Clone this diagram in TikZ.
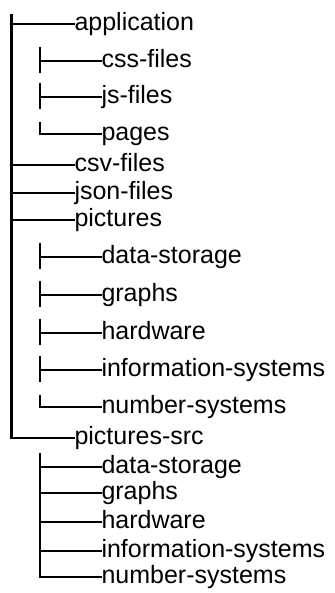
\documentclass[tikz,border=0pt]{standalone}
\usepackage{fontspec}
\setmainfont{Liberation Sans}
\begin{document}
\begin{tikzpicture}[x=1pt,y=-1pt,
  lbl/.style={anchor=west,inner sep=0pt,outer sep=0pt,
    text height=12.6pt,text depth=0pt,
    font=\fontsize{25}{30}\selectfont},
  branch/.style={line width=2pt,line cap=butt},
  trunk/.style={line width=2.8pt,line cap=butt}]
\useasboundingbox[fill=white] (0,0) rectangle (334,593);

% first level
\node[lbl] (app)  at (74.5,24)  {application};
\node[lbl] (csv)  at (74.5,165) {csv-files};
\node[lbl] (json) at (74.5,193) {json-files};
\node[lbl] (pics) at (74.5,220) {pictures};
\node[lbl] (src)  at (74.5,438) {pictures-src};

% application/
\node[lbl] (css)   at (101.5,61)  {css-files};
\node[lbl] (js)    at (101.5,97)  {js-files};
\node[lbl] (pages) at (101.5,134) {pages};

% pictures/
\node[lbl] (pds) at (101.5,257) {data-storage};
\node[lbl] (pgr) at (101.5,295) {graphs};
\node[lbl] (phw) at (101.5,333) {hardware};
\node[lbl] (pis) at (101.5,370) {information-systems};
\node[lbl] (pns) at (101.5,407) {number-systems};

% pictures-src/
\node[lbl] (sds) at (101.5,467) {data-storage};
\node[lbl] (sgr) at (101.5,493) {graphs};
\node[lbl] (shw) at (101.5,522) {hardware};
\node[lbl] (sis) at (101.5,551) {information-systems};
\node[lbl] (sns) at (101.5,577) {number-systems};

% root trunk
\coordinate (root) at (11.5,14);
\draw[trunk] (root) |- (src.west);
\foreach \n in {app,csv,json,pics}
  \draw[branch] (root |- \n.west) -- (\n.west);

% application/ and pictures/ branches: one short stem per entry
\coordinate (sub) at (40,0);
\foreach \n in {css,js,pds,pgr,phw,pis}
  \draw[branch] ([yshift=14pt] sub |- \n.west) -- ([yshift=-12pt] sub |- \n.west)
                (sub |- \n.west) -- (\n.west);
\foreach \n in {pages,pns}
  \draw[branch] ([yshift=12pt] sub |- \n.west) |- (\n.west);

% pictures-src/ branch
\coordinate (srctop) at (40,453);
\draw[branch] (srctop) |- (sns.west);
\foreach \n in {sds,sgr,shw,sis}
  \draw[branch] (srctop |- \n.west) -- (\n.west);
\end{tikzpicture}
\end{document}
